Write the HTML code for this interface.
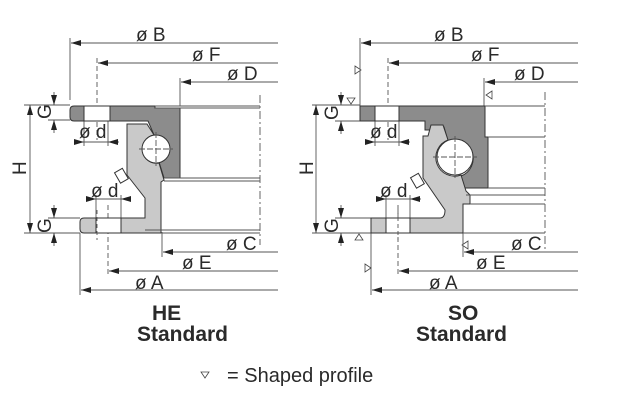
<!DOCTYPE html>
<html><head><meta charset="utf-8"><style>
html,body{margin:0;padding:0;background:#fff;}
svg{display:block;}
text{font-family:"Liberation Sans",Arial,sans-serif;fill:#2a2a2a;}
.l{font-size:19px;}
.b{font-size:21px;font-weight:bold;}
</style></head><body>
<svg width="621" height="402" viewBox="0 0 621 402" xmlns="http://www.w3.org/2000/svg">
<defs>
<marker id="al" viewBox="0 0 10 10" refX="10" refY="5" markerUnits="userSpaceOnUse" markerWidth="10" markerHeight="10" orient="auto-start-reverse"><path d="M10,5 L0,2 L0,8Z" fill="#222"/></marker>
</defs>
<g stroke="#555" stroke-width="0.9" fill="none">
<line x1="71" y1="43" x2="278" y2="43" marker-start="url(#al)"/>
<line x1="70" y1="38" x2="70" y2="100"/>
<line x1="98" y1="63" x2="278" y2="63" marker-start="url(#al)"/>
<line x1="97" y1="58" x2="97" y2="140" stroke-dasharray="5,3"/>
<line x1="181" y1="82" x2="278" y2="82" marker-start="url(#al)"/>
<line x1="180" y1="78" x2="180" y2="106"/>
<line x1="163" y1="252" x2="278" y2="252" marker-start="url(#al)"/>
<line x1="162" y1="232" x2="162" y2="257"/>
<line x1="109" y1="271" x2="278" y2="271" marker-start="url(#al)"/>
<line x1="108" y1="205" x2="108" y2="276" stroke-dasharray="5,3"/>
<line x1="81" y1="290" x2="278" y2="290" marker-start="url(#al)"/>
<line x1="80" y1="233" x2="80" y2="295"/>
<line x1="260" y1="95" x2="260" y2="245" stroke-dasharray="8,3,2,3"/>
<line x1="24" y1="105" x2="70" y2="105"/>
<line x1="48" y1="120" x2="70" y2="120"/>
<line x1="54" y1="92" x2="54" y2="105" marker-end="url(#al)"/>
<line x1="54" y1="133" x2="54" y2="120" marker-end="url(#al)"/>
<line x1="30" y1="105" x2="30" y2="233" marker-start="url(#al)" marker-end="url(#al)"/>
<line x1="24" y1="233" x2="80" y2="233"/>
<line x1="48" y1="218" x2="80" y2="218"/>
<line x1="54" y1="205" x2="54" y2="218" marker-end="url(#al)"/>
<line x1="54" y1="246" x2="54" y2="233" marker-end="url(#al)"/>
<line x1="84" y1="121" x2="84" y2="146"/><line x1="108" y1="121" x2="108" y2="146"/>
<line x1="74" y1="142" x2="84" y2="142" marker-end="url(#al)"/>
<line x1="119" y1="142" x2="108" y2="142" marker-end="url(#al)"/>
<line x1="84" y1="142" x2="108" y2="142"/>
<line x1="96" y1="195" x2="96" y2="218"/><line x1="121" y1="195" x2="121" y2="218"/>
<line x1="86" y1="199" x2="96" y2="199" marker-end="url(#al)"/>
<line x1="131" y1="199" x2="121" y2="199" marker-end="url(#al)"/>
<line x1="96" y1="199" x2="121" y2="199"/>
</g>
<g stroke="#333" stroke-width="1">
<path d="M74,106 H84 V121 H74 Q70,121 70,117 V110 Q70,106 74,106Z" fill="#8c8c8c"/>
<path d="M110,106 H155 V108 H180 V178 H164 L159,162 A14,14 0 0 0 154,135 L148,121 H110Z" fill="#8c8c8c"/>
<path d="M127,124 H147 L154,135 A14,14 0 0 0 159,163 L164,180 L161,182 V233 H84 Q80,233 80,229 V222 Q80,218 84,218 H145 V198 L127,175Z" fill="#c9c9c9"/>
<rect x="84" y="106" width="26" height="15" fill="#fff"/>
<rect x="96" y="218" width="25" height="15" fill="#fff"/>
<circle cx="156" cy="149" r="14" fill="#fff"/>
</g>
<g stroke="#555" stroke-width="0.9" fill="none">
<line x1="155" y1="106" x2="260" y2="106"/><line x1="155" y1="108" x2="260" y2="108"/>
<line x1="164" y1="178" x2="260" y2="178"/><line x1="164" y1="181" x2="260" y2="181"/>
<line x1="145" y1="230" x2="260" y2="230"/><line x1="161" y1="233" x2="260" y2="233"/>
<line x1="139" y1="149" x2="173" y2="149" stroke-dasharray="6,2"/>
<line x1="156" y1="132" x2="156" y2="166" stroke-dasharray="6,2"/>
<line x1="97" y1="210" x2="97" y2="240" stroke-dasharray="4,3"/>
</g>
<g stroke="#333" stroke-width="1" fill="#fff"><rect x="117" y="170" width="9" height="12" transform="rotate(-30 121 176)"/></g>
<g stroke="#555" stroke-width="0.9" fill="none">
<line x1="361" y1="43" x2="578" y2="43" marker-start="url(#al)"/>
<line x1="360" y1="38" x2="360" y2="106"/>
<line x1="389" y1="63" x2="578" y2="63" marker-start="url(#al)"/>
<line x1="388" y1="58" x2="388" y2="140" stroke-dasharray="5,3"/>
<line x1="485" y1="82" x2="578" y2="82" marker-start="url(#al)"/>
<line x1="484" y1="78" x2="484" y2="106"/>
<line x1="464" y1="252" x2="578" y2="252" marker-start="url(#al)"/>
<line x1="463" y1="233" x2="463" y2="257"/>
<line x1="399" y1="271" x2="578" y2="271" marker-start="url(#al)"/>
<line x1="398" y1="205" x2="398" y2="276" stroke-dasharray="5,3"/>
<line x1="372" y1="290" x2="578" y2="290" marker-start="url(#al)"/>
<line x1="371" y1="233" x2="371" y2="295"/>
<line x1="545" y1="92" x2="545" y2="252" stroke-dasharray="8,3,2,3"/>
<line x1="312" y1="105" x2="360" y2="105"/>
<line x1="335" y1="121" x2="360" y2="121"/>
<line x1="341" y1="92" x2="341" y2="105" marker-end="url(#al)"/>
<line x1="341" y1="134" x2="341" y2="121" marker-end="url(#al)"/>
<line x1="316" y1="105" x2="316" y2="233" marker-start="url(#al)" marker-end="url(#al)"/>
<line x1="312" y1="233" x2="371" y2="233"/>
<line x1="335" y1="218" x2="371" y2="218"/>
<line x1="341" y1="205" x2="341" y2="218" marker-end="url(#al)"/>
<line x1="341" y1="246" x2="341" y2="233" marker-end="url(#al)"/>
<line x1="375" y1="121" x2="375" y2="146"/><line x1="399" y1="121" x2="399" y2="146"/>
<line x1="365" y1="142" x2="375" y2="142" marker-end="url(#al)"/>
<line x1="410" y1="142" x2="399" y2="142" marker-end="url(#al)"/>
<line x1="375" y1="142" x2="399" y2="142"/>
<line x1="386" y1="195" x2="386" y2="218"/><line x1="410" y1="195" x2="410" y2="218"/>
<line x1="376" y1="199" x2="386" y2="199" marker-end="url(#al)"/>
<line x1="421" y1="199" x2="410" y2="199" marker-end="url(#al)"/>
<line x1="386" y1="199" x2="410" y2="199"/>
</g>
<g stroke="#333" stroke-width="1">
<path d="M360,106 H375 V121 H360Z" fill="#8c8c8c"/>
<path d="M399,106 H485 V137 H488 V188 H464 L461,176 A18,18 0 0 0 448,141 L444,127 H432 L430,130 H425 V121 H399Z" fill="#8c8c8c"/>
<path d="M423,136 H428 L431,125 H443 L448,140 A18,18 0 0 0 461,175 L466,191 L470,195 V204 H463 V233 H371 V218 H440 Q445,218 445,210 L423,178Z" fill="#c9c9c9"/>
<rect x="375" y="106" width="24" height="15" fill="#fff"/>
<rect x="386" y="218" width="24" height="15" fill="#fff"/>
<circle cx="455" cy="157" r="18" fill="#fff"/>
</g>
<g stroke="#555" stroke-width="0.9" fill="none">
<line x1="485" y1="106" x2="545" y2="106"/>
<line x1="488" y1="137" x2="545" y2="137"/>
<line x1="488" y1="188" x2="545" y2="188"/>
<line x1="466" y1="195" x2="545" y2="195"/><line x1="470" y1="204" x2="545" y2="204"/>
<line x1="463" y1="233" x2="545" y2="233"/>
<line x1="433" y1="157" x2="477" y2="157" stroke-dasharray="6,2"/>
<line x1="455" y1="136" x2="455" y2="178" stroke-dasharray="6,2"/>
<line x1="398" y1="210" x2="398" y2="240" stroke-dasharray="4,3"/>
</g>
<g stroke="#333" stroke-width="1" fill="#fff"><rect x="413" y="175" width="9" height="12" transform="rotate(-30 417 181)"/></g>
<g stroke="#444" stroke-width="0.8" fill="#fff">
<path d="M355,66 L361,70 L355,74Z"/>
<path d="M347,98 L355,98 L351,104Z"/>
<path d="M492,91 L486,95 L492,99Z"/>
<path d="M355,240 L363,240 L359,234Z"/>
<path d="M468,241 L462,245 L468,249Z"/>
<path d="M365,264 L371,268 L365,272Z"/>
<path d="M201,372 L209,372 L205,378Z"/>
</g>
<g class="l">
<text x="136" y="41">ø B</text><text x="192" y="61">ø F</text><text x="227" y="80">ø D</text>
<text x="79" y="138">ø d</text><text x="91" y="197">ø d</text>
<text x="226" y="250">ø C</text><text x="182" y="269">ø E</text><text x="135" y="289">ø A</text>
<text x="434" y="41">ø B</text><text x="471" y="61">ø F</text><text x="514" y="80">ø D</text>
<text x="370" y="138">ø d</text><text x="380" y="197">ø d</text>
<text x="511" y="250">ø C</text><text x="476" y="269">ø E</text><text x="429" y="289">ø A</text>
<text transform="translate(51,119) rotate(-90)">G</text>
<text transform="translate(51,233) rotate(-90)">G</text>
<text transform="translate(26,175) rotate(-90)">H</text>
<text transform="translate(338,120) rotate(-90)">G</text>
<text transform="translate(338,233) rotate(-90)">G</text>
<text transform="translate(313,175) rotate(-90)">H</text>
<text x="227" y="382" style="font-size:20px">= Shaped profile</text>
</g>
<g class="b">
<text x="152" y="320">HE</text><text x="137" y="341">Standard</text>
<text x="448" y="320">SO</text><text x="416" y="341">Standard</text>
</g>
</svg>
</body></html>
